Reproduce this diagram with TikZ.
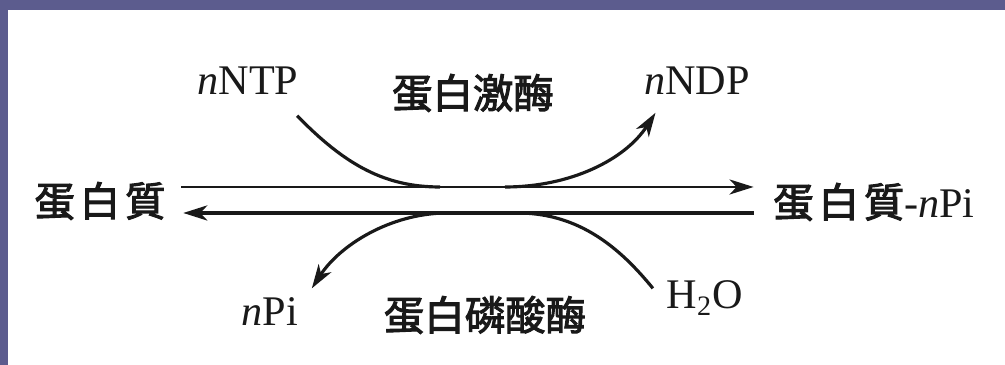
\documentclass[tikz,border=0pt]{standalone}
\usepackage{fontspec}
\setmainfont{Liberation Serif}
\newfontfamily\cjk[AutoFakeBold=2.5]{Noto Sans CJK TC}
\usetikzlibrary{arrows.meta,calc}
\definecolor{framecol}{RGB}{92,92,142}
\definecolor{ink}{RGB}{25,25,25}
\tikzset{
  lbl/.style={inner sep=0pt, font=\fontsize{12}{14}\selectfont, text=ink},
  cjklbl/.style={inner sep=0pt, font=\fontsize{11.5}{14}\selectfont\cjk\bfseries, text=ink},
  mainline/.style={draw=ink, line width=0.8pt},
  backline/.style={draw=ink, line width=1.1pt},
  curveline/.style={draw=ink, line width=0.9pt},
  tip/.style={-{Stealth[length=2.4mm,width=1.5mm,inset=0.7mm]}},
}
\begin{document}
\begin{tikzpicture}[x=0.01cm,y=-0.01cm]
\useasboundingbox (0,0) rectangle (1005,365);
\fill[framecol] (0,0) rectangle (1005,365);
\fill[white] (8,10) rectangle (1005,365);

% labels
\node[lbl, anchor=base] (ntp) at (248,95) {\textit{n}NTP};
\node[cjklbl] (kin) at (473,93) {蛋白激酶};
\node[lbl, anchor=base] (ndp) at (697,95) {\textit{n}NDP};
\node[cjklbl] (prot) at (100,201) {蛋\hspace{0.12em}白\hspace{0.12em}質};
\node[cjklbl] (protp) at (874,202) {蛋\hspace{0.12em}白\hspace{0.12em}質\fontsize{12}{14}\selectfont\rmfamily\mdseries-\textit{n}Pi};
\node[lbl, anchor=base] (npi) at (270,326) {\textit{n}Pi};
\node[cjklbl] (phos) at (485,315) {蛋白磷酸酶};
\node[lbl, anchor=base] (water) at (705,309) {H\textsubscript{2}O};

% connector end points
\coordinate (t1) at ($(prot.east)+(15,-14)$);
\coordinate (t2) at ($(protp.west)+(-19,-15)$);
\coordinate (b1) at ($(prot.east)+(17,12)$);
\coordinate (b2) at ($(protp.west)+(-19,11)$);
\coordinate (ntpa) at ($(ntp.south east)+(-2,20)$);
\coordinate (ndpa) at ($(ndp.south west)+(12,17)$);
\coordinate (npia) at ($(npi.north east)+(13,-9)$);
\coordinate (wata) at ($(water.north west)+(-13,8)$);
\coordinate (tt1) at (440,187);
\coordinate (tt2) at (505,187);
\coordinate (bb1) at (445,213);
\coordinate (bb2) at (520,213);

% main arrows
\draw[mainline, tip] (t1) -- (t2);
\draw[backline, tip] (b2) -- (b1);

% curves
\draw[curveline] (ntpa) .. controls (345,165) and (385,187) .. (tt1);
\draw[curveline, tip] (tt2) .. controls (570,187) and (625,160) .. (ndpa);
\draw[curveline] (wata) .. controls (620,248) and (580,214) .. (bb2);
\draw[curveline, tip] (bb1) .. controls (390,214) and (340,245) .. (npia);
\end{tikzpicture}
\end{document}
